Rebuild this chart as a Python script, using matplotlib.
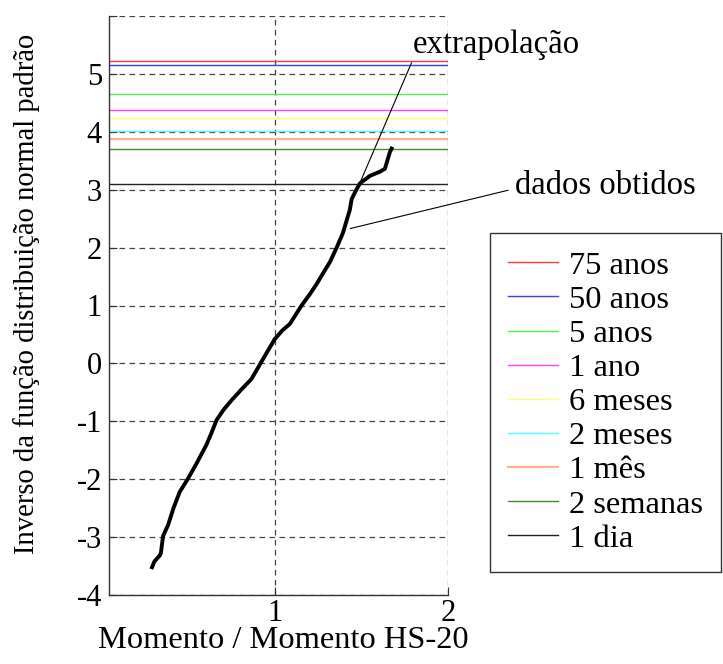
import matplotlib
matplotlib.use("Agg")
import matplotlib.pyplot as plt

plt.rcParams['font.family'] = ['Liberation Serif', 'DejaVu Serif']

# Data
curve_x = [0.286, 0.30, 0.33, 0.337, 0.35, 0.379, 0.41, 0.446, 0.494, 0.543, 0.60, 0.63,
           0.659, 0.70, 0.745, 0.80, 0.861, 0.929, 0.996, 1.04, 1.083, 1.151, 1.20, 1.238,
           1.28, 1.315, 1.354, 1.39, 1.412, 1.43, 1.441, 1.47, 1.489, 1.547, 1.604, 1.633,
           1.662, 1.672]
curve_y = [-3.52, -3.42, -3.32, -3.28, -2.98, -2.79, -2.50, -2.22, -1.99, -1.73, -1.41, -1.20,
           -0.98, -0.80, -0.64, -0.46, -0.27, 0.08, 0.42, 0.57, 0.68, 1.0, 1.20, 1.37,
           1.58, 1.75, 2.0, 2.25, 2.47, 2.65, 2.84, 3.01, 3.11, 3.24, 3.31, 3.36,
           3.65, 3.71]

level_labels = ['75 anos', '50 anos', '5 anos', '1 ano', '6 meses', '2 meses', '1 mês',
                '2 semanas', '1 dia']
level_values = [5.23, 5.15, 4.65, 4.37, 4.24, 4.01, 3.87, 3.70, 3.10]
level_colors = ['#ff3b3b', '#3b3bff', '#4ef04e', '#ff40ff', '#ffff66', '#4dffff', '#ffb08c',
                '#4b8a2a', '#222222']

extrap_x = [1.489, 1.787]
extrap_y = [3.12, 5.19]

xticks = [1, 2]
yticks = [-4, -3, -2, -1, 0, 1, 2, 3, 4, 5, 6]
ytick_labels = ['-4', '-3', '-2', '-1', '0', '1', '2', '3', '4', '5', '']

fig = plt.figure(figsize=(7.23, 6.64), dpi=100)
ax = fig.add_axes([109/723, 1 - 595/664, (448.3 - 109)/723, (595 - 16)/664])

for v, c, lab in zip(level_values, level_colors, level_labels):
    lw = 1.6 if lab == '1 mês' else 1.0
    ax.axhline(v, color=c, lw=lw, label=lab, zorder=2)

ax.plot(curve_x, curve_y, color='black', lw=2.8, solid_joinstyle='round', zorder=4)
ax.plot(extrap_x, extrap_y, color='black', lw=0.8, zorder=5)

ax.set_xlim(0.037, 2)
ax.set_ylim(-4, 6)
ax.set_xticks(xticks)
ax.set_yticks(yticks)
ax.set_yticklabels(ytick_labels)

ax.grid(True, color='#444444', lw=0.9, linestyle=(0, (4.5, 3.5)), zorder=1)
ax.set_axisbelow(True)
for s in ['top', 'right']:
    ax.spines[s].set_visible(False)
for s in ['left', 'bottom']:
    ax.spines[s].set_color('#333333')
    ax.spines[s].set_linewidth(1.0)

ax.tick_params(axis='both', direction='in', length=6, width=0.8, labelsize=22,
               color='#333333')
ax.tick_params(axis='y', pad=5)
ax.tick_params(axis='x', pad=3)

ax.set_xlabel('Momento / Momento HS-20', fontsize=23.4, va='center', ha='center')
ax.xaxis.set_label_coords((283 - 109) / 339.3, (595 - 641) / 579)
ax.set_ylabel('Inverso da função distribuição normal padrão', fontsize=20.6,
              va='center', ha='center')
ax.yaxis.set_label_coords((27 - 109) / 339.3, (595 - 294) / 579)

# annotations
ax.text(1.795, 5.51, 'extrapolação', fontsize=23.6, ha='left', va='center', clip_on=False)
ax.plot([1.434, 2.345], [2.33, 2.99], color='black', lw=0.8, clip_on=False, zorder=5)
ax.text(2.386, 3.07, 'dados obtidos', fontsize=23.6, ha='left', va='center', clip_on=False)

leg = ax.legend(loc='upper left', bbox_to_anchor=(490/723, 1 - 233/664),
                bbox_transform=fig.transFigure, borderaxespad=0, fontsize=23.4,
                frameon=True, fancybox=False, handlelength=1.54, handletextpad=0.34,
                labelspacing=0.135, borderpad=0.55)
leg.get_frame().set_edgecolor('black')
leg.get_frame().set_linewidth(1.0)

fig.savefig('out.png', dpi=100)
